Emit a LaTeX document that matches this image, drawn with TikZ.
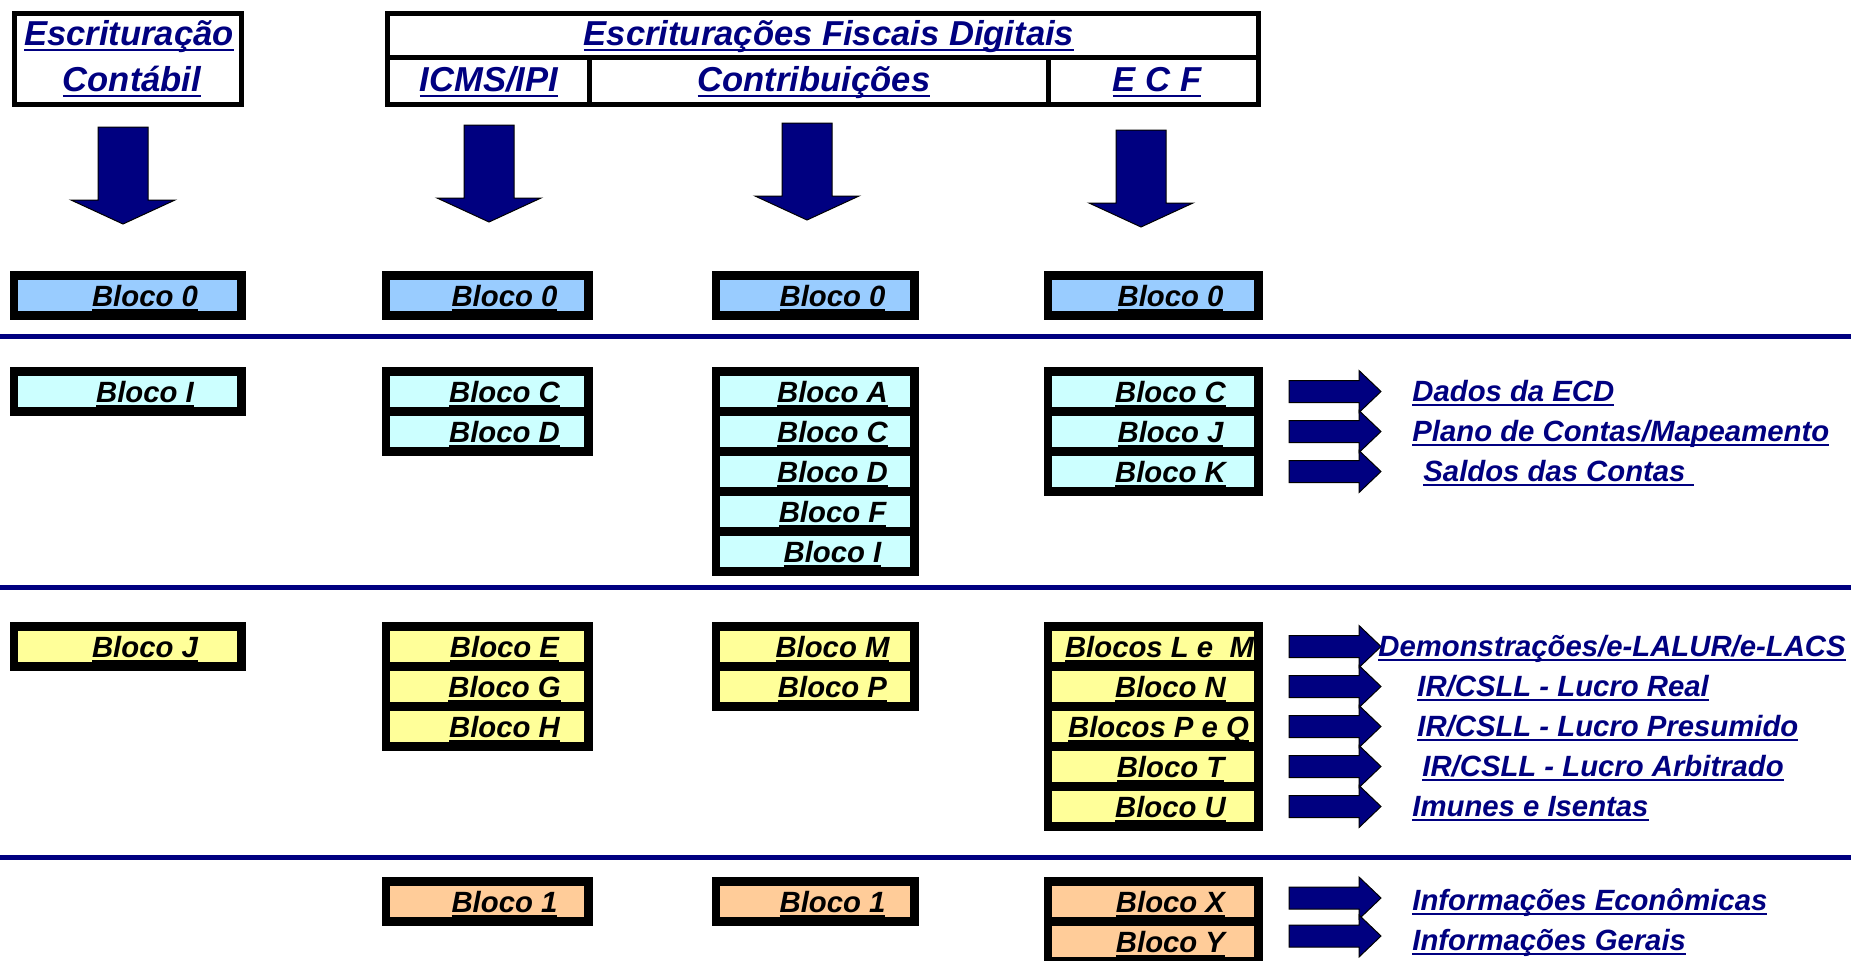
\documentclass[tikz,border=0pt]{standalone}
\usepackage{fontspec}
\setmainfont{Liberation Sans}
\usepackage{tikz}

\definecolor{marinho}{HTML}{000080}
\definecolor{azul0}{HTML}{99CCFF}
\definecolor{ciano}{HTML}{CCFFFF}
\definecolor{amarelo}{HTML}{FFFF99}
\definecolor{pessego}{HTML}{FFCC99}

% texto sublinhado (linha grossa)
\newcommand{\sublinha}[1]{\setbox0=\hbox{#1}\rlap{\rule[-2.4pt]{\wd0}{1.1pt}}\box0}

% pilha de blocos: nome, x esq, x dir, y topo, cor, {texto/desvio,...}
\newcommand{\pilha}[6]{%
    \foreach \txt/\dx [count=\nn from 0] in {#6} {
        \fill[black] (#2,#4+40*\nn) rectangle (#3,#4+40*\nn+49);
        \fill[#5] (#2+8,#4+40*\nn+9) rectangle (#3-9,#4+40*\nn+40);
        \node[bloco] (#1-\nn) at ({(#2+#3)/2+\dx},#4+40*\nn+24.5) {\sublinha{\txt}};
    }%
}

\begin{document}
\begin{tikzpicture}[x=0.5pt, y=-0.5pt,
    bloco/.style={font=\fontsize{14.65pt}{17pt}\selectfont\bfseries\itshape, text=black,
        inner sep=0pt, text height=10.5pt, text depth=0pt},
    rotulo/.style={font=\fontsize{14.65pt}{17pt}\selectfont\bfseries\itshape, text=marinho,
        inner sep=0pt, text height=10.5pt, text depth=0pt, anchor=west},
    titulo/.style={font=\fontsize{17.3pt}{20pt}\selectfont\bfseries\itshape, text=marinho,
        inner sep=0pt, text height=12.4pt, text depth=0pt},
    moldura/.style={draw=black, line width=2.5pt},
    seta/.style={fill=marinho, draw=black, line width=0.5pt, line join=miter},
    divisa/.style={draw=marinho, line width=2.5pt}]
    \useasboundingbox (0,0) rectangle (1851,960);
    \clip (0,0) rectangle (1851,960);

    % cabecalhos
    \draw[moldura] (14,13) rectangle (241,104.5);
    \node[titulo] (escrit) at (129,33.5) {\sublinha{Escrituração}};
    \node[titulo] (contabil) at (132,79.5) {\sublinha{Contábil}};
    \draw[moldura] (387.5,13) rectangle (1258.5,104.5);
    \draw[moldura] (387.5,57.5) -- (1258.5,57.5);
    \draw[moldura] (589,57.5) -- (589,104.5);
    \draw[moldura] (1048,57.5) -- (1048,104.5);
    \node[titulo] (efd) at (829,33.5) {\sublinha{Escriturações Fiscais Digitais}};
    \node[titulo] (icms) at (489,79.5) {\sublinha{ICMS/IPI}};
    \node[titulo] (contrib) at (814,79.5) {\sublinha{Contribuições}};
    \node[titulo] (ecf) at (1157,79.5) {\sublinha{E C F}};

    % setas para baixo
    \foreach \cx/\yt in {123/127, 489/125, 807/123, 1141/130} {
        \draw[seta] (\cx-25,\yt) -- (\cx+25,\yt) -- (\cx+25,\yt+73) -- (\cx+52,\yt+73)
            -- (\cx,\yt+97) -- (\cx-52,\yt+73) -- (\cx-25,\yt+73) -- cycle;
    }

    % bloco 0
    \pilha{ecd0}{10}{246}{271}{azul0}{Bloco 0/17}
    \pilha{icms0}{382}{593}{271}{azul0}{Bloco 0/17}
    \pilha{contrib0}{712}{919}{271}{azul0}{Bloco 0/17}
    \pilha{ecf0}{1044}{1263}{271}{azul0}{Bloco 0/17}

    % linhas divisorias
    \foreach \y in {336, 587, 857} {
        \draw[divisa] (0,\y) -- (1851,\y);
    }

    % blocos de registros
    \pilha{ecd1}{10}{246}{367}{ciano}{Bloco I/17}
    \pilha{icms1}{382}{593}{367}{ciano}{Bloco C/17, Bloco D/17}
    \pilha{contrib1}{712}{919}{367}{ciano}{Bloco A/17, Bloco C/17, Bloco D/17, Bloco F/17, Bloco I/17}
    \pilha{ecf1}{1044}{1263}{367}{ciano}{Bloco C/17, Bloco J/17, Bloco K/17}

    \pilha{ecd2}{10}{246}{622}{amarelo}{Bloco J/17}
    \pilha{icms2}{382}{593}{622}{amarelo}{Bloco E/17, Bloco G/17, Bloco H/17}
    \pilha{contrib2}{712}{919}{622}{amarelo}{Bloco M/17, Bloco P/17}
    \pilha{ecf2}{1044}{1263}{622}{amarelo}{Blocos L e~~M/6, Bloco N/17, Blocos P e Q/5, Bloco T/17, Bloco U/17}

    \pilha{icms3}{382}{593}{877}{pessego}{Bloco 1/17}
    \pilha{contrib3}{712}{919}{877}{pessego}{Bloco 1/17}
    \pilha{ecf3}{1044}{1263}{877}{pessego}{Bloco X/17, Bloco Y/17}

    % setas para a direita
    \foreach \yc in {391.5, 431.5, 471.5, 646.5, 686.5, 726.5, 766.5, 806.5, 898, 936} {
        \draw[seta] (1289,\yc-11) -- (1359,\yc-11) -- (1359,\yc-21) -- (1381,\yc)
            -- (1359,\yc+21) -- (1359,\yc+11) -- (1289,\yc+11) -- cycle;
    }

    % descricoes
    \node[rotulo] (dados) at (1412,390.5) {\sublinha{Dados da ECD}};
    \node[rotulo] (plano) at (1412,430.5) {\sublinha{Plano de Contas/Mapeamento}};
    \node[rotulo] (saldos) at (1423,470.5) {\sublinha{Saldos das Contas\ }};
    \node[rotulo] (demonst) at (1378,645.5) {\sublinha{Demonstrações/e-LALUR/e-LACS}};
    \node[rotulo] (real) at (1417,685.5) {\sublinha{IR/CSLL - Lucro Real}};
    \node[rotulo] (presum) at (1417,725.5) {\sublinha{IR/CSLL - Lucro Presumido}};
    \node[rotulo] (arbitr) at (1422,765.5) {\sublinha{IR/CSLL - Lucro Arbitrado}};
    \node[rotulo] (imunes) at (1412,805.5) {\sublinha{Imunes e Isentas}};
    \node[rotulo] (econom) at (1412,900) {\sublinha{Informações Econômicas}};
    \node[rotulo] (gerais) at (1412,940) {\sublinha{Informações Gerais}};
\end{tikzpicture}
\end{document}
